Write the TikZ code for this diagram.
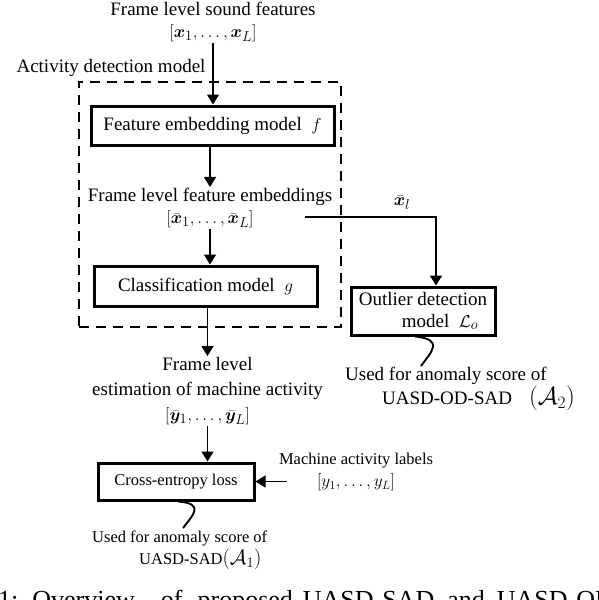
\documentclass[tikz,border=0pt]{standalone}
\usepackage{amsmath}
\usepackage{bm}
\usepackage{fontspec}
\setmainfont{Liberation Serif}
\usetikzlibrary{arrows.meta}

\begin{document}
\begin{tikzpicture}[x=1pt,y=-1pt,
  every node/.style={font=\fontsize{19}{22}\selectfont},
  lowtxt/.style={font=\fontsize{16.5}{22}\selectfont},
  box/.style={draw, line width=3pt, inner sep=0pt, align=center},
  region/.style={draw, line width=2.7pt, dash pattern=on 10pt off 7pt, inner sep=0pt},
  txt/.style={align=center, inner sep=1pt},
  arr/.style={line width=1.4pt, -{Triangle[length=10pt,width=12pt]}},
  squig/.style={line width=1.9pt}]
\useasboundingbox (0,0) rectangle (598,600);

% activity detection model
\node[region, minimum width=262pt, minimum height=245pt] (adm) at (210,204.5) {};
\node[txt] (admlbl) at (111,68) {Activity detection model};

\node[txt] (snd) at (213,22) {Frame level sound features\\$[\bm{x}_1,\ldots,\bm{x}_L]$};
\node[box, minimum width=243pt, minimum height=39pt] (femb) at (212.5,125.5) {Feature embedding model~~$f$};
\node[txt] (emb) at (210,208) {Frame level feature embeddings\\$[\bar{\bm{x}}_1,\ldots,\bar{\bm{x}}_L]$};
\node[box, minimum width=223pt, minimum height=40pt] (cls) at (205.5,286) {Classification model~~$g$};

% outlier branch
\node[box, align=left, minimum width=144pt, minimum height=48pt] (od) at (423,311) {Outlier detection\\\hspace*{43pt}model~~$\mathcal{L}_o$};
\node[inner sep=1pt] (xllbl) at (402,203) {$\bar{\bm{x}}_l$};
\node[txt, align=left, anchor=west] (use2) at (344,389) {Used for anomaly score of\\\hspace*{37pt}UASD-OD-SAD\hspace{17pt}{\fontsize{24}{24}\selectfont$(\mathcal{A}_2)$}};
\coordinate (xl) at (305,217);
\coordinate (w2) at (421,366);

% estimation and loss
\node[txt, font=\fontsize{19}{25}\selectfont] (est) at (207.5,391) {Frame level\\estimation of machine activity\\$[\bar{\bm{y}}_1,\ldots,\bar{\bm{y}}_L]$};
\node[box, lowtxt, minimum width=156pt, minimum height=37pt] (ce) at (176,481.5) {Cross-entropy loss};
\node[txt, lowtxt] (lbls) at (356,472) {Machine activity labels\\$[y_1,\ldots,y_L]$};
\node[txt, lowtxt, align=left, anchor=west] (use1) at (91,550) {Used for anomaly score of\\\hspace*{47pt}UASD-SAD{\fontsize{22}{22}\selectfont$(\mathcal{A}_1)$}};
\coordinate (w1) at (183,528);

\node[anchor=base west, inner sep=0pt, font=\fontsize{26}{30}\selectfont] (cap) at (-2,608) {\llap{Fig.~}1:\hspace{14pt}Overview\hspace{26pt}of\hspace{15pt}proposed\hspace{10pt}UASD-SAD\hspace{13pt}and\hspace{12pt}UASD-OD-SAD};

\draw[arr] (snd.south) -- (snd.south |- femb.north);
\draw[arr] (emb.north |- femb.south) -- (emb.north);
\draw[arr] (emb.south) -- (emb.south |- cls.north);
\draw[arr] (est.north |- cls.south) -- (est.north);
\draw[arr] (est.south) -- (est.south |- ce.north);
\draw[arr] ([xshift=9pt]lbls.west |- ce.east) -- (ce.east);
\draw[arr] (xl) -| ([xshift=13pt]od.north);
\draw[squig] ([xshift=2pt]ce.south) .. controls +(28,2) and +(9,-12) .. (w1);
\draw[squig] ([xshift=-8pt]od.south) .. controls +(30,3) and +(10,-14) .. (w2);
\end{tikzpicture}
\end{document}
